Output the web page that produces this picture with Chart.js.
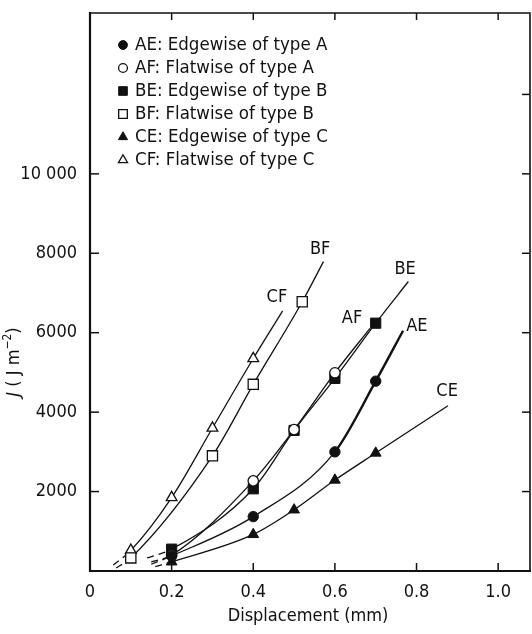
<!DOCTYPE html>
<html>
<head>
<meta charset="utf-8">
<script src="https://cdn.jsdelivr.net/npm/chart.js@4/dist/chart.umd.min.js"></script>
<style>
  html, body { margin: 0; padding: 0; background: #fff; }
  #wrap { width: 532px; height: 634px; position: relative; }
</style>
</head>
<body>
<div id="wrap"><canvas id="c"></canvas></div>
<script>
const FONT = "'DejaVu Sans Condensed', 'DejaVu Sans', sans-serif";

// Axis ticks
const xTickValues = [0, 0.2, 0.4, 0.6, 0.8, 1.0];
const yTickValues = [2000, 4000, 6000, 8000, 10000];
const yFrameTicks = [2000, 4000, 6000, 8000, 10000, 12000];

// Series names and legend entries
const seriesNames = ['AE', 'AF', 'BE', 'BF', 'CE', 'CF'];
const legendTexts = [
  'AE: Edgewise of type A',
  'AF: Flatwise of type A',
  'BE: Edgewise of type B',
  'BF: Flatwise of type B',
  'CE: Edgewise of type C',
  'CF: Flatwise of type C'
];

// Measured points: displacement (mm) and J (J m^-2)
const aeDisp = [0.2, 0.4, 0.6, 0.7];
const aeJ    = [380, 1370, 3000, 4780];
const afDisp = [0.2, 0.4, 0.5, 0.6];
const afJ    = [400, 2270, 3560, 4990];
const beDisp = [0.2, 0.4, 0.5, 0.6, 0.7];
const beJ    = [550, 2070, 3540, 4850, 6240];
const bfDisp = [0.1, 0.3, 0.4, 0.52];
const bfJ    = [330, 2900, 4700, 6780];
const ceDisp = [0.2, 0.4, 0.5, 0.6, 0.7];
const ceJ    = [230, 920, 1540, 2290, 2970];
const cfDisp = [0.1, 0.2, 0.3, 0.4];
const cfJ    = [520, 1850, 3600, 5350];

// Ends of each fitted curve: [displacement, J] at start and finish
const aeCurveEnds = [[0.15, 170], [0.767, 6050]];
const afCurveEnds = [[0.15, 230], [0.686, 6110]];
const beCurveEnds = [[0.14, 330], [0.78, 7290]];
const bfCurveEnds = [[0.064, 75], [0.572, 7790]];
const ceCurveEnds = [[0.16, 110], [0.877, 4160]];
const cfCurveEnds = [[0.057, 150], [0.472, 6550]];

// Where each curve name is written: [displacement, J]
const curveLabelAt = {
  AE: [0.801, 6170], AF: [0.642, 6370], BE: [0.772, 7600],
  BF: [0.564, 8090], CE: [0.875, 4530], CF: [0.458, 6900]
};

const X_MAX = 1.078;
const Y_MAX = 14050;

function buildData(disp, J, ends) {
  const pts = disp.map((d, i) => ({ x: d, y: J[i] }));
  return [{ x: ends[0][0], y: ends[0][1] }, ...pts, { x: ends[1][0], y: ends[1][1] }];
}

const markerStyle = {
  AE: { pointStyle: 'circle',   filled: true,  radius: 5.2 },
  AF: { pointStyle: 'circle',   filled: false, radius: 5.2 },
  BE: { pointStyle: 'rect',     filled: true,  radius: 7.2 },
  BF: { pointStyle: 'rect',     filled: false, radius: 7.2 },
  CE: { pointStyle: 'triangle', filled: true,  radius: 6.2 },
  CF: { pointStyle: 'triangle', filled: false, radius: 6.2 }
};

const seriesData = {
  AE: buildData(aeDisp, aeJ, aeCurveEnds),
  AF: buildData(afDisp, afJ, afCurveEnds),
  BE: buildData(beDisp, beJ, beCurveEnds),
  BF: buildData(bfDisp, bfJ, bfCurveEnds),
  CE: buildData(ceDisp, ceJ, ceCurveEnds),
  CF: buildData(cfDisp, cfJ, cfCurveEnds)
};

const datasets = seriesNames.map(name => {
  const m = markerStyle[name];
  return {
    label: name,
    data: seriesData[name],
    borderColor: '#111',
    borderWidth: 1.3,
    backgroundColor: m.filled ? '#111' : '#fff',
    pointBackgroundColor: m.filled ? '#111' : '#fff',
    pointBorderColor: '#111',
    pointBorderWidth: m.filled ? 1 : 1.3,
    pointStyle: m.pointStyle,
    pointRadius: ctx => (ctx.dataIndex === 0 || ctx.dataIndex === ctx.dataset.data.length - 1) ? 0 : m.radius,
    pointHoverRadius: 0,
    cubicInterpolationMode: 'monotone',
    fill: false,
    segment: {
      borderDash: ctx => ctx.p0DataIndex === 0 ? [7, 5] : undefined,
      borderWidth: ctx => (name === 'AE' && ctx.p0.parsed.x >= 0.6) ? 2.4 : undefined
    }
  };
});

// Box frame with inward tick marks on all four sides
const framePlugin = {
  id: 'frame',
  beforeDatasetsDraw(chart) {
    const { ctx, chartArea: a, scales: { x, y } } = chart;
    ctx.save();
    ctx.strokeStyle = '#111';
    ctx.lineCap = 'square';
    ctx.lineWidth = 2.2;
    ctx.beginPath(); ctx.moveTo(a.left, a.top); ctx.lineTo(a.left, a.bottom); ctx.stroke();
    ctx.lineWidth = 2;
    ctx.beginPath(); ctx.moveTo(a.left, a.bottom); ctx.lineTo(a.right, a.bottom); ctx.stroke();
    ctx.lineWidth = 1.6;
    ctx.beginPath(); ctx.moveTo(a.left, a.top); ctx.lineTo(a.right, a.top); ctx.lineTo(a.right, a.bottom); ctx.stroke();
    ctx.lineWidth = 1.5;
    ctx.lineCap = 'butt';
    xTickValues.forEach(v => {
      if (v === 0) return;
      const px = x.getPixelForValue(v);
      ctx.beginPath(); ctx.moveTo(px, a.bottom); ctx.lineTo(px, a.bottom - 8); ctx.stroke();
      ctx.beginPath(); ctx.moveTo(px, a.top); ctx.lineTo(px, a.top + 7); ctx.stroke();
    });
    yTickValues.forEach(v => {
      const py = y.getPixelForValue(v);
      ctx.beginPath(); ctx.moveTo(a.left, py); ctx.lineTo(a.left + 9, py); ctx.stroke();
    });
    yFrameTicks.forEach(v => {
      const py = y.getPixelForValue(v);
      ctx.beginPath(); ctx.moveTo(a.right, py); ctx.lineTo(a.right - 8, py); ctx.stroke();
    });
    ctx.restore();
  }
};

// Curve names, legend block and axis titles
const textPlugin = {
  id: 'texts',
  afterDatasetsDraw(chart) {
    const { ctx, chartArea: a, scales: { x, y } } = chart;
    ctx.save();
    ctx.fillStyle = '#111';

    // names beside the curves
    ctx.font = `18px ${FONT}`;
    ctx.textAlign = 'center';
    ctx.textBaseline = 'middle';
    seriesNames.forEach(n => {
      const [dx, dy] = curveLabelAt[n];
      ctx.fillText(n, x.getPixelForValue(dx), y.getPixelForValue(dy));
    });

    // legend
    const lx = a.left + 33, tx = a.left + 45, ly0 = a.top + 32, step = 23;
    ctx.textAlign = 'left';
    ctx.font = `18.5px ${FONT}`;
    chart.data.datasets.forEach((ds, i) => {
      const ry = ly0 + i * step;
      const m = markerStyle[ds.label];
      ctx.fillStyle = m.filled ? '#111' : '#fff';
      ctx.strokeStyle = '#111';
      ctx.lineWidth = m.filled ? 1 : 1.3;
      Chart.helpers.drawPoint(ctx, {
        pointStyle: m.pointStyle, radius: m.radius * 0.85, borderWidth: ctx.lineWidth, rotation: 0
      }, lx, ry);
      ctx.fillStyle = '#111';
      ctx.fillText(legendTexts[i], tx, ry);
    });

    // x-axis title
    ctx.textAlign = 'center';
    ctx.font = `18px ${FONT}`;
    ctx.fillText('Displacement (mm)', 308, 616);

    // y-axis title: italic J, then units with a superscript
    ctx.translate(14, 362);
    ctx.rotate(-Math.PI / 2);
    const parts = [
      { t: 'J', f: `italic 18px ${FONT}`, dy: 0 },
      { t: ' ( J m', f: `18px ${FONT}`, dy: 0 },
      { t: '\u22122', f: `12px ${FONT}`, dy: -6 },
      { t: ')', f: `18px ${FONT}`, dy: 0 }
    ];
    let total = 0;
    parts.forEach(p => { ctx.font = p.f; p.w = ctx.measureText(p.t).width; total += p.w; });
    let cx = -total / 2;
    ctx.textAlign = 'left';
    parts.forEach(p => { ctx.font = p.f; ctx.fillText(p.t, cx, p.dy); cx += p.w; });
    ctx.restore();
  }
};

new Chart(document.getElementById('c'), {
  type: 'line',
  data: { datasets },
  options: {
    responsive: true,
    maintainAspectRatio: false,
    animation: false,
    events: [],
    layout: { padding: { top: 13, right: 2, left: 0, bottom: 0 } },
    plugins: { legend: { display: false }, tooltip: { enabled: false } },
    scales: {
      x: {
        type: 'linear', min: 0, max: X_MAX,
        afterBuildTicks: s => { s.ticks = xTickValues.map(v => ({ value: v })); },
        afterFit: s => { s.height = 63; s.paddingLeft = 0; s.paddingRight = 0; },
        grid: { display: false, drawTicks: false },
        border: { display: false },
        ticks: {
          padding: 11, color: '#111', font: { family: FONT, size: 18 },
          callback: v => v === 0 ? '0' : v.toFixed(1)
        }
      },
      y: {
        type: 'linear', min: 0, max: Y_MAX,
        afterBuildTicks: s => { s.ticks = yTickValues.map(v => ({ value: v })); },
        afterFit: s => { s.width = 90; s.paddingTop = 0; s.paddingBottom = 0; },
        grid: { display: false, drawTicks: false },
        border: { display: false },
        ticks: {
          padding: 13, color: '#111', font: { family: FONT, size: 18 },
          callback: v => v >= 10000 ? String(v).replace(/(\d)(?=(\d{3})+$)/g, '$1 ') : String(v)
        }
      }
    }
  },
  plugins: [framePlugin, textPlugin]
});
</script>
</body>
</html>
